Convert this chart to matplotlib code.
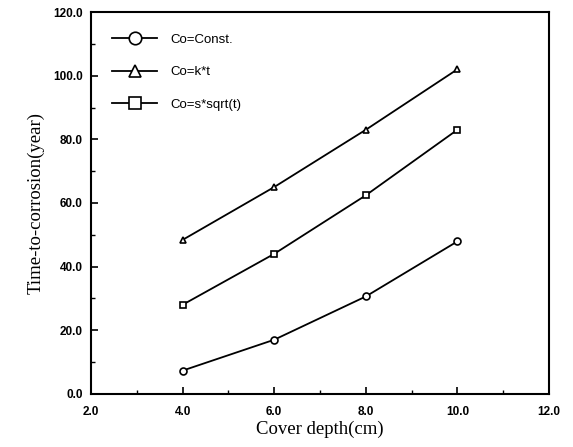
import matplotlib.pyplot as plt
from matplotlib.ticker import MultipleLocator, FormatStrFormatter

cover_depth = [4.0, 6.0, 8.0, 10.0]
const_vals = [7.3, 17.0, 30.6, 47.9]
kt_vals = [48.4, 65.0, 83.0, 102.0]
sqrt_vals = [28.0, 44.0, 62.4, 83.0]

labels = ["Co=Const.", "Co=k*t", "Co=s*sqrt(t)"]
markers = ["o", "^", "s"]


def main():
    fig = plt.figure(figsize=(5.73, 4.47), dpi=100)
    ax = fig.add_axes([0.159, 0.119, 0.799, 0.854])

    for vals, lab, mk in zip([const_vals, kt_vals, sqrt_vals], labels, markers):
        ax.plot(cover_depth, vals, color="black", lw=1.3, marker=mk,
                markersize=5, markerfacecolor="white", markeredgewidth=1.2,
                label=lab)

    ax.set_xlim(2.0, 12.0)
    ax.set_ylim(0.0, 120.0)
    ax.xaxis.set_major_locator(MultipleLocator(2.0))
    ax.xaxis.set_minor_locator(MultipleLocator(1.0))
    ax.yaxis.set_major_locator(MultipleLocator(20.0))
    ax.yaxis.set_minor_locator(MultipleLocator(10.0))
    ax.xaxis.set_major_formatter(FormatStrFormatter("%.1f"))
    ax.yaxis.set_major_formatter(FormatStrFormatter("%.1f"))
    ax.tick_params(which="both", direction="in", top=False, right=False)
    ax.tick_params(which="major", length=5, width=1.2, pad=6)
    ax.tick_params(axis="x", which="major", pad=9)
    ax.tick_params(which="minor", length=3, width=1)
    for lbl in ax.get_xticklabels() + ax.get_yticklabels():
        lbl.set_fontfamily("Liberation Sans")
        lbl.set_fontweight("bold")
        lbl.set_fontsize(8.5)
    for sp in ax.spines.values():
        sp.set_linewidth(1.5)

    ax.set_xlabel("Cover depth(cm)", fontfamily="Liberation Serif", fontsize=13.5, labelpad=2)
    ax.set_ylabel("Time-to-corrosion(year)", fontfamily="Liberation Serif", fontsize=13.5, labelpad=6)

    ax.legend(loc="upper left", frameon=False, handlelength=3.4,
              handletextpad=1.0, labelspacing=1.55, markerscale=1.8,
              prop={"family": "Liberation Sans", "size": 9.5},
              bbox_to_anchor=(0.02, 0.975))

    fig.savefig("out.png", dpi=100)
    plt.close(fig)


if __name__ == "__main__":
    main()
